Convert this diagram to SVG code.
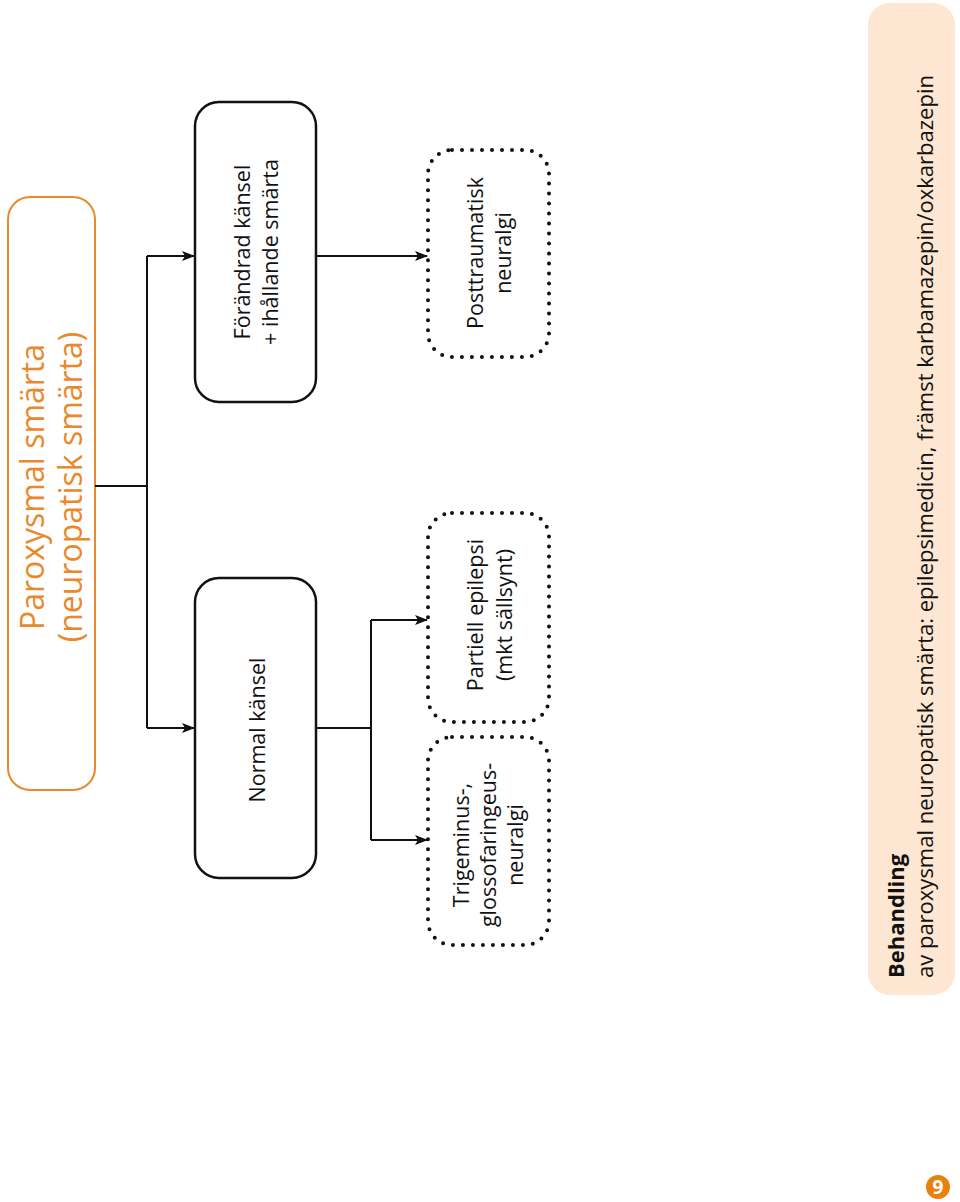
<svg xmlns="http://www.w3.org/2000/svg" width="960" height="1202" viewBox="0 0 960 1202">
<defs>
<style>
.t{font-family:"Open Sans","Noto Sans",sans-serif;fill:#111;font-size:21.5px;text-anchor:middle}
.title{font-family:"Open Sans","Noto Sans",sans-serif;fill:#E8892B;font-size:32px;text-anchor:middle}
.b{font-family:"Open Sans","Noto Sans",sans-serif;fill:#111;font-size:22px}
.solid{fill:#fff;stroke:#111;stroke-width:2.5}
.dot{fill:none;stroke:#111;stroke-width:4;stroke-dasharray:0 10;stroke-linecap:round}
.c{fill:none;stroke:#111;stroke-width:2}
</style>
<marker id="ah" viewBox="0 0 13 10" refX="12" refY="5" markerWidth="13" markerHeight="10" markerUnits="userSpaceOnUse" orient="auto">
<path d="M0,0 L13,5 L0,10 L3,5 z" fill="#111"/>
</marker>
</defs>
<rect width="960" height="1202" fill="#fff"/>

<g id="root">
<rect x="8" y="197" width="87" height="593" rx="22" fill="#fff" stroke="#E8892B" stroke-width="2"/>
<text class="title" transform="rotate(-90 44 487)" x="44" y="487">Paroxysmal smärta</text>
<text class="title" transform="rotate(-90 82 487)" x="82" y="487">(neuropatisk smärta)</text>
</g>

<g id="forandrad">
<rect class="solid" x="195" y="102" width="121" height="300" rx="24"/>
<text class="t" transform="rotate(-90 250 252)" x="250" y="252">Förändrad känsel</text>
<text class="t" transform="rotate(-90 278 252)" x="278" y="252">+ ihållande smärta</text>
</g>

<g id="normal">
<rect class="solid" x="195" y="578" width="121" height="300" rx="24"/>
<text class="t" transform="rotate(-90 265 730)" x="265" y="730">Normal känsel</text>
</g>

<g id="posttraumatisk">
<rect class="dot" x="428" y="150" width="121" height="207" rx="24"/>
<text class="t" transform="rotate(-90 483 253)" x="483" y="253">Posttraumatisk</text>
<text class="t" transform="rotate(-90 511 253)" x="511" y="253">neuralgi</text>
</g>

<g id="partiell">
<rect class="dot" x="428" y="513" width="121" height="209" rx="24"/>
<text class="t" transform="rotate(-90 483 615)" x="483" y="615">Partiell epilepsi</text>
<text class="t" transform="rotate(-90 512 615)" x="512" y="615">(mkt sällsynt)</text>
</g>

<g id="trigeminus">
<rect class="dot" x="428" y="737" width="121" height="208" rx="24"/>
<text class="t" transform="rotate(-90 469 845)" x="469" y="845">Trigeminus-,</text>
<text class="t" transform="rotate(-90 496 845)" x="496" y="845">glossofaringeus-</text>
<text class="t" transform="rotate(-90 523 845)" x="523" y="845">neuralgi</text>
</g>

<g id="connectors">
<path class="c" d="M95,486 H147"/>
<path class="c" d="M147,256 V728"/>
<path class="c" d="M147,256 H194" marker-end="url(#ah)"/>
<path class="c" d="M147,728 H194" marker-end="url(#ah)"/>
<path class="c" d="M316,256 H427" marker-end="url(#ah)"/>
<path class="c" d="M316,728 H371"/>
<path class="c" d="M371,620 V840"/>
<path class="c" d="M371,620 H427" marker-end="url(#ah)"/>
<path class="c" d="M371,840 H427" marker-end="url(#ah)"/>
</g>

<g id="behandling">
<rect x="868" y="3" width="87" height="992" rx="22" fill="#FDE6D2"/>
<text class="b" transform="rotate(-90 904 978)" x="904" y="978" font-weight="bold">Behandling</text>
<text class="b" transform="rotate(-90 933 978)" x="933" y="978">av paroxysmal neuropatisk smärta: epilepsimedicin, främst karbamazepin/oxkarbazepin</text>
</g>

<g id="page">
<circle cx="938" cy="1187" r="12" fill="#E8820E"/>
<text x="938" y="1194" font-family="Open Sans, sans-serif" font-weight="bold" font-size="19" fill="#fff" text-anchor="middle">9</text>
</g>
</svg>
